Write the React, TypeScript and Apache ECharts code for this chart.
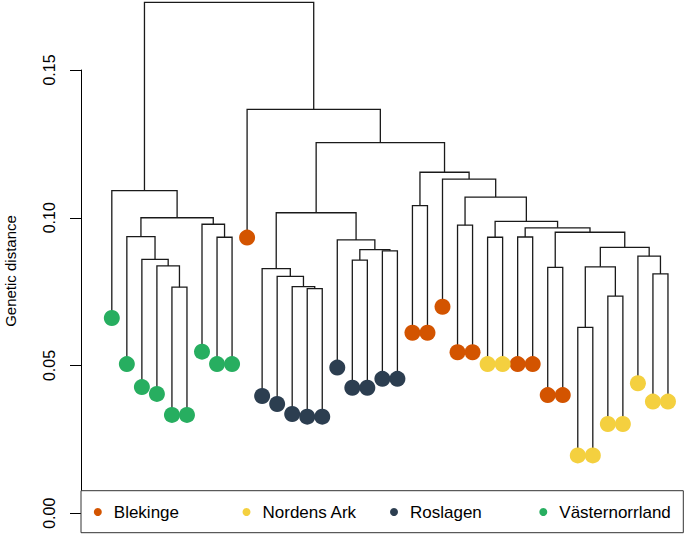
import React, { useEffect, useRef } from "react";
import * as echarts from "echarts";

// Populations (legend order) and their colours
const groupNames = ["Blekinge", "Nordens Ark", "Roslagen", "Västernorrland"];
const groupColors = ["#D35400", "#F4D03F", "#2C3E50", "#27AE60"];

// Leaves in display order (left to right): population index and leaf height
const leafGroups = [
  3, 3, 3, 3, 3, 3, 3, 3, 3,
  0,
  2, 2, 2, 2, 2, 2, 2, 2, 2, 2,
  0, 0, 0, 0, 0,
  1, 1,
  0, 0, 0, 0,
  1, 1, 1, 1, 1, 1, 1,
];
const leafHeights = [
  0.0661, 0.0505, 0.0427, 0.0404, 0.0333, 0.0333, 0.0547, 0.0505, 0.0505,
  0.0933,
  0.0397, 0.037, 0.0336, 0.0327, 0.0327, 0.0493, 0.0425, 0.0425, 0.0455, 0.0455,
  0.0611, 0.0611, 0.0699, 0.0545, 0.0545,
  0.0505, 0.0505,
  0.0505, 0.0505, 0.04, 0.04,
  0.0196, 0.0196, 0.0302, 0.0302, 0.044, 0.0378, 0.0378,
];

// Merges (hclust style): negative = leaf number, positive = earlier merge number
const merges: [number, number][] = [
  [-5, -6], [-4, 1], [-3, 2], [-2, 3], [-8, -9], [-7, 5], [4, 6], [-1, 7],
  [-14, -15], [-13, 9], [-12, 10], [-11, 11], [-17, -18], [-19, -20], [13, 14],
  [-16, 15], [12, 16], [-21, -22], [-24, -25], [-26, -27], [-28, -29], [-30, -31],
  [-32, -33], [-34, -35], [23, 24], [-37, -38], [-36, 26], [25, 27], [22, 28],
  [21, 29], [20, 30], [19, 31], [-23, 32], [18, 33], [17, 34], [-10, 35], [8, 36],
];
const mergeHeights = [
  0.0765, 0.0837, 0.0859, 0.0936, 0.0934, 0.0978, 0.1, 0.1092,
  0.076, 0.0767, 0.0802, 0.0828, 0.0857, 0.0888, 0.0892,
  0.0925, 0.1017, 0.1041, 0.0975, 0.0934, 0.0935, 0.0832,
  0.0629, 0.0735, 0.0834, 0.081, 0.087, 0.09, 0.0951,
  0.0966, 0.0988, 0.107, 0.1131, 0.1154, 0.1254, 0.1367, 0.1729,
];

const yTickValues = [0, 0.05, 0.1, 0.15];
const yTickLabels = ["0.00", "0.05", "0.10", "0.15"];

const FONT = "'Liberation Sans', Arial, Helvetica, sans-serif";

export default function App() {
  const ref = useRef<HTMLDivElement>(null);

  useEffect(() => {
    document.body.style.margin = "0";
    if (!ref.current) return;
    const chart = echarts.init(ref.current, null, { renderer: "svg" });

    // node positions
    const mergeX: number[] = [];
    const posOf = (c: number) => (c < 0 ? -c : mergeX[c - 1]);
    const hOf = (c: number) => (c < 0 ? leafHeights[-c - 1] : mergeHeights[c - 1]);
    const segData: number[][] = [];
    merges.forEach(([a, b], i) => {
      const xa = posOf(a);
      const xb = posOf(b);
      mergeX.push((xa + xb) / 2);
      segData.push([xa, hOf(a), xb, hOf(b), mergeHeights[i]]);
    });

    const scatterSeries = groupNames.map((name, g) => ({
      type: "scatter",
      name,
      z: 3,
      symbol: "circle",
      symbolSize: 16,
      itemStyle: { color: groupColors[g], opacity: 1 },
      data: leafHeights
        .map((h, i) => ({ v: [i + 1, h], g: leafGroups[i] }))
        .filter((d) => d.g === g)
        .map((d) => d.v),
    }));

    const legendLefts = [93.8, 242.5, 390, 539.3];

    const option: any = {
      animation: false,
      backgroundColor: "#ffffff",
      grid: { left: 81, right: 2, top: 70, bottom: 20.7, containLabel: false },
      xAxis: {
        type: "value",
        min: -1.05,
        max: 39,
        show: false,
      },
      yAxis: {
        type: "value",
        min: 0,
        max: 0.15,
        interval: 0.05,
        axisLine: { show: true, onZero: false, lineStyle: { color: "#000", width: 1 } },
        axisTick: { show: true, length: 11, lineStyle: { color: "#000", width: 1 } },
        splitLine: { show: false },
        axisLabel: {
          rotate: 90,
          margin: 24,
          fontSize: 16,
          fontFamily: FONT,
          color: "#000",
          formatter: (v: number) => {
            const idx = yTickValues.findIndex((t) => Math.abs(t - v) < 1e-9);
            return idx >= 0 ? yTickLabels[idx] : "";
          },
        },
      },
      legend: groupNames.map((name, g) => ({
        data: [{ name, icon: "circle" }],
        left: legendLefts[g],
        top: 502,
        padding: 0,
        itemWidth: 8,
        itemHeight: 8,
        selectedMode: false,
        textStyle: {
          fontSize: 17,
          fontFamily: FONT,
          color: "#000",
          lineHeight: 20,
          padding: [0, 0, 0, 7],
        },
        z: 10,
      })),
      graphic: [
        {
          type: "rect",
          z: 5,
          shape: { x: 81, y: 490.7, width: 602.3, height: 42 },
          style: { fill: "#fff", stroke: "#333", lineWidth: 1 },
        },
        {
          type: "text",
          x: 10,
          y: 271,
          rotation: Math.PI / 2,
          style: {
            text: "Genetic distance",
            fontSize: 15,
            fontFamily: FONT,
            fill: "#000",
            align: "center",
            verticalAlign: "middle",
          },
        },
      ],
      series: [
        {
          type: "custom",
          name: "tree",
          z: 2,
          clip: false,
          silent: true,
          renderItem: (_params: any, api: any) => {
            const xa = api.value(0);
            const ha = api.value(1);
            const xb = api.value(2);
            const hb = api.value(3);
            const h = api.value(4);
            const pts = [
              api.coord([xa, ha]),
              api.coord([xa, h]),
              api.coord([xb, h]),
              api.coord([xb, hb]),
            ];
            return {
              type: "polyline",
              shape: { points: pts },
              style: { stroke: "#1a1a1a", lineWidth: 1.3, fill: null },
            };
          },
          data: segData,
        },
        ...scatterSeries,
      ],
    };

    chart.setOption(option);
    return () => chart.dispose();
  }, []);

  return <div ref={ref} style={{ width: 685, height: 534 }} />;
}
